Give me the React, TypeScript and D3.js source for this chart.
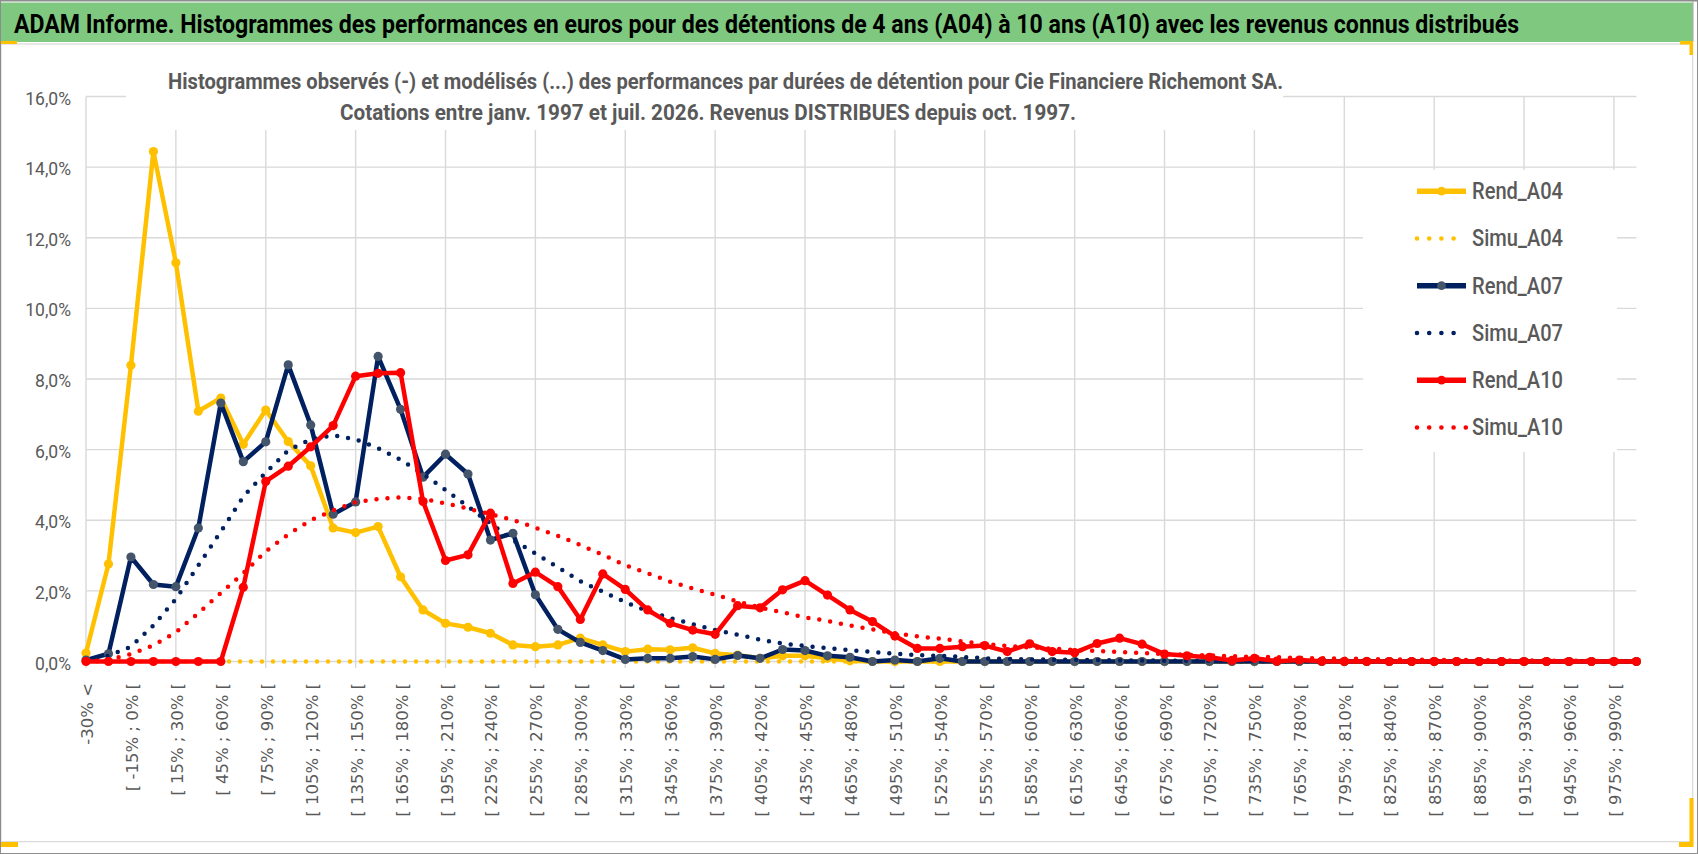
import React, { useEffect } from "react";
import * as d3 from "d3";

// ---------- data ----------
const CATEGORIES: string[] = [
  "-30% <", "[ -30% ; -15% [", "[ -15% ; 0% [", "[ 0% ; 15% [", "[ 15% ; 30% [",
  "[ 30% ; 45% [", "[ 45% ; 60% [", "[ 60% ; 75% [", "[ 75% ; 90% [", "[ 90% ; 105% [",
  "[ 105% ; 120% [", "[ 120% ; 135% [", "[ 135% ; 150% [", "[ 150% ; 165% [", "[ 165% ; 180% [",
  "[ 180% ; 195% [", "[ 195% ; 210% [", "[ 210% ; 225% [", "[ 225% ; 240% [", "[ 240% ; 255% [",
  "[ 255% ; 270% [", "[ 270% ; 285% [", "[ 285% ; 300% [", "[ 300% ; 315% [", "[ 315% ; 330% [",
  "[ 330% ; 345% [", "[ 345% ; 360% [", "[ 360% ; 375% [", "[ 375% ; 390% [", "[ 390% ; 405% [",
  "[ 405% ; 420% [", "[ 420% ; 435% [", "[ 435% ; 450% [", "[ 450% ; 465% [", "[ 465% ; 480% [",
  "[ 480% ; 495% [", "[ 495% ; 510% [", "[ 510% ; 525% [", "[ 525% ; 540% [", "[ 540% ; 555% [",
  "[ 555% ; 570% [", "[ 570% ; 585% [", "[ 585% ; 600% [", "[ 600% ; 615% [", "[ 615% ; 630% [",
  "[ 630% ; 645% [", "[ 645% ; 660% [", "[ 660% ; 675% [", "[ 675% ; 690% [", "[ 690% ; 705% [",
  "[ 705% ; 720% [", "[ 720% ; 735% [", "[ 735% ; 750% [", "[ 750% ; 765% [", "[ 765% ; 780% [",
  "[ 780% ; 795% [", "[ 795% ; 810% [", "[ 810% ; 825% [", "[ 825% ; 840% [", "[ 840% ; 855% [",
  "[ 855% ; 870% [", "[ 870% ; 885% [", "[ 885% ; 900% [", "[ 900% ; 915% [", "[ 915% ; 930% [",
  "[ 930% ; 945% [", "[ 945% ; 960% [", "[ 960% ; 975% [", "[ 975% ; 990% [", "[ 990% ; 1005% [",
];

const REND_A04: number[] = [
  0.24, 2.76, 8.39, 14.44, 11.29, 7.09, 7.46, 6.15, 7.12, 6.23,
  5.54, 3.78, 3.65, 3.82, 2.4, 1.46, 1.08, 0.97, 0.8, 0.47,
  0.42, 0.47, 0.66, 0.47, 0.28, 0.35, 0.33, 0.39, 0.23, 0.18,
  0.09, 0.16, 0.16, 0.09, 0.02, 0, 0, 0, 0, 0,
  0, 0, 0, 0, 0, 0, 0, 0, 0, 0,
  0, 0, 0, 0, 0, 0, 0, 0, 0, 0,
  0, 0, 0, 0, 0, 0, 0, 0, 0, 0,
];

const SIMU_A04: number[] = [
  0, 0, 0, 0, 0, 0, 0, 0, 0, 0,
  0, 0, 0, 0, 0, 0, 0, 0, 0, 0,
  0, 0, 0, 0, 0, 0, 0, 0, 0, 0,
  0, 0, 0, 0, 0, 0, 0, 0, 0, 0,
  0, 0, 0, 0, 0, 0, 0, 0, 0, 0,
  0, 0, 0, 0, 0, 0, 0, 0, 0, 0,
  0, 0, 0, 0, 0, 0, 0, 0, 0, 0,
];

const REND_A07: number[] = [
  0.04, 0.22, 2.96, 2.18, 2.12, 3.78, 7.32, 5.66, 6.22, 8.4,
  6.7, 4.17, 4.52, 8.64, 7.14, 5.22, 5.87, 5.31, 3.44, 3.63,
  1.89, 0.91, 0.54, 0.31, 0.06, 0.09, 0.09, 0.14, 0.06, 0.17,
  0.09, 0.34, 0.31, 0.16, 0.12, 0, 0.04, 0, 0.09, 0,
  0, 0, 0, 0, 0, 0, 0, 0, 0, 0,
  0, 0, 0, 0, 0, 0, 0, 0, 0, 0,
  0, 0, 0, 0, 0, 0, 0, 0, 0, 0,
];

const SIMU_A07: number[] = [
  0.02, 0.16, 0.42, 1.02, 1.77, 2.72, 3.68, 4.67, 5.35, 5.98,
  6.29, 6.41, 6.29, 6.04, 5.71, 5.31, 4.86, 4.39, 3.91, 3.44,
  3.06, 2.67, 2.27, 1.98, 1.68, 1.43, 1.23, 1.06, 0.89, 0.76,
  0.62, 0.51, 0.44, 0.38, 0.32, 0.27, 0.22, 0.18, 0.16, 0.13,
  0.09, 0.07, 0.06, 0.05, 0.05, 0.04, 0.03, 0.03, 0.02, 0.02,
  0.02, 0.01, 0.01, 0.01, 0.01, 0.01, 0, 0, 0, 0,
  0, 0, 0, 0, 0, 0, 0, 0, 0, 0,
];

const REND_A10: number[] = [
  0, 0, 0, 0, 0, 0, 0, 2.1, 5.1, 5.53,
  6.08, 6.68, 8.08, 8.16, 8.18, 4.53, 2.86, 3.02, 4.2, 2.21,
  2.53, 2.12, 1.19, 2.48, 2.04, 1.46, 1.08, 0.89, 0.77, 1.58,
  1.52, 2.03, 2.29, 1.88, 1.46, 1.13, 0.72, 0.37, 0.37, 0.42,
  0.45, 0.28, 0.5, 0.28, 0.25, 0.51, 0.66, 0.49, 0.21, 0.16,
  0.12, 0.03, 0.09, 0.01, 0.04, 0.01, 0, 0, 0, 0,
  0, 0, 0, 0, 0, 0, 0, 0, 0, 0,
];

const SIMU_A10: number[] = [
  0, 0.05, 0.21, 0.46, 0.83, 1.37, 1.94, 2.5, 3.12, 3.6,
  4.0, 4.28, 4.51, 4.6, 4.65, 4.6, 4.48, 4.33, 4.17, 4.01,
  3.79, 3.56, 3.3, 3.02, 2.73, 2.5, 2.26, 2.07, 1.89, 1.7,
  1.53, 1.39, 1.25, 1.15, 1.02, 0.91, 0.8, 0.71, 0.65, 0.57,
  0.49, 0.44, 0.4, 0.36, 0.33, 0.3, 0.27, 0.24, 0.21, 0.19,
  0.17, 0.15, 0.13, 0.12, 0.1, 0.09, 0.08, 0.07, 0.06, 0.05,
  0.05, 0.04, 0.04, 0.03, 0.03, 0.02, 0.02, 0.02, 0.01, 0.01,
];

const SERIES_NAMES = ["Rend_A04", "Simu_A04", "Rend_A07", "Simu_A07", "Rend_A10", "Simu_A10"];

const Y_TICKS = [0, 2, 4, 6, 8, 10, 12, 14, 16];
const Y_TICK_LABELS = ["0,0%", "2,0%", "4,0%", "6,0%", "8,0%", "10,0%", "12,0%", "14,0%", "16,0%"];

const MAIN_TITLE =
  "ADAM Informe. Histogrammes des performances en euros pour des détentions de 4 ans (A04) à 10 ans (A10) avec les revenus connus distribués";
const SUB_TITLE_1 =
  "Histogrammes observés (-) et modélisés (...) des performances par durées de détention pour Cie Financiere Richemont SA.";
const SUB_TITLE_2 =
  "Cotations entre janv. 1997 et juil. 2026. Revenus  DISTRIBUES depuis oct. 1997.";

// ---------- layout / style ----------
const W = 1698;
const H = 854;
const PLOT_LEFT = 86;
const PLOT_RIGHT = 1636.4;
const PLOT_BOTTOM = 661.5;
const PLOT_TOP = 96.5;

const YELLOW = "#FFC000";
const NAVY = "#002060";
const RED = "#FF0000";
const GRID = "#d9d9d9";
const TXT = "#595959";
const NARROW = "'Liberation Sans Narrow', 'Arial Narrow', Roboto, sans-serif";

export default function App() {
  useEffect(() => {
    document.body.style.margin = "0";
  }, []);

  const x = d3.scalePoint<string>().domain(CATEGORIES).range([PLOT_LEFT, PLOT_RIGHT]);
  const y = d3.scaleLinear().domain([0, 16]).range([PLOT_BOTTOM, PLOT_TOP]);

  const lineGen = d3
    .line<number>()
    .x((_, i) => x(CATEGORIES[i]) as number)
    .y((v) => y(v));

  const seriesDefs = [
    { name: SERIES_NAMES[0], values: REND_A04, color: YELLOW, dotted: false, marker: YELLOW },
    { name: SERIES_NAMES[1], values: SIMU_A04, color: YELLOW, dotted: true, marker: null },
    { name: SERIES_NAMES[2], values: REND_A07, color: NAVY, dotted: false, marker: "#44546A" },
    { name: SERIES_NAMES[3], values: SIMU_A07, color: NAVY, dotted: true, marker: null },
    { name: SERIES_NAMES[4], values: REND_A10, color: RED, dotted: false, marker: RED },
    { name: SERIES_NAMES[5], values: SIMU_A10, color: RED, dotted: true, marker: null },
  ];

  const legendX0 = 1417;
  const legendX1 = 1466;
  const legendY0 = 191.2;
  const legendStep = 47.25;

  return (
    <svg
      width={W}
      height={H}
      viewBox={`0 0 ${W} ${H}`}
      style={{ position: "absolute", left: 0, top: 0, display: "block", background: "#fff" }}
    >
      <rect x={0} y={0} width={W} height={H} fill="#ffffff" />
      {/* green title band */}
      <rect x={1} y={2.5} width={1692} height={39.5} fill="#7ec97f" />
      <line x1={0} y1={0.75} x2={W} y2={0.75} stroke="#8c8c8c" strokeWidth={1.5} />
      <line x1={1693} y1={0} x2={1693} y2={42} stroke="#b0b0b0" strokeWidth={1.2} />
      <text
        x={14}
        y={33}
        fontFamily={NARROW}
        fontWeight="bold"
        fontSize={25}
        fill="#000"
        textLength={1505}
        lengthAdjust="spacingAndGlyphs"
      >
        {MAIN_TITLE}
      </text>

      {/* chart area */}
      <rect x={1} y={44} width={1691.7} height={797.7} fill="#fff" stroke={GRID} strokeWidth={1.2} />

      {/* horizontal gridlines */}
      {Y_TICKS.map((t) => (
        <line
          key={"h" + t}
          x1={PLOT_LEFT}
          x2={PLOT_RIGHT}
          y1={y(t)}
          y2={y(t)}
          stroke={GRID}
          strokeWidth={1.4}
        />
      ))}
      {/* vertical gridlines, every 4th category */}
      {CATEGORIES.filter((_, i) => i % 4 === 0).map((c) => (
        <line
          key={"v" + c}
          x1={x(c)}
          x2={x(c)}
          y1={PLOT_TOP}
          y2={PLOT_BOTTOM + 6.5}
          stroke={GRID}
          strokeWidth={1.4}
        />
      ))}

      {/* chart title box (hides gridlines) */}
      <rect x={126} y={50} width={1157} height={80} fill="#fff" />
      <text
        x={168}
        y={89}
        fontFamily={NARROW}
        fontWeight="bold"
        fontSize={21.5}
        fill={TXT}
        textLength={1115}
        lengthAdjust="spacingAndGlyphs"
      >
        {SUB_TITLE_1}
      </text>
      <text
        x={340}
        y={120}
        fontFamily={NARROW}
        fontWeight="bold"
        fontSize={21.5}
        fill={TXT}
        textLength={736}
        lengthAdjust="spacingAndGlyphs"
      >
        {SUB_TITLE_2}
      </text>

      {/* legend box (hides gridlines) */}
      <rect x={1363} y={170} width={254} height={282} fill="#fff" />

      {/* y tick labels */}
      {Y_TICKS.map((t, i) => (
        <text
          key={"yl" + t}
          x={71}
          y={y(t) + 2}
          textAnchor="end"
          dominantBaseline="central"
          fontFamily={NARROW}
          fontSize={17.5}
          fill={TXT}
        >
          {Y_TICK_LABELS[i]}
        </text>
      ))}

      {/* x tick labels, every other category */}
      {CATEGORIES.map((c, i) =>
        i % 2 === 0 ? (
          <text
            key={"xl" + i}
            transform={`translate(${(x(c) as number) + 1.5},683) rotate(-90)`}
            textAnchor="end"
            dominantBaseline="central"
            fontFamily="'DejaVu Sans', Verdana, sans-serif"
            fontSize={16.5}
            fill={TXT}
          >
            {c}
          </text>
        ) : null
      )}

      {/* series */}
      {seriesDefs.map((s) => (
        <g key={s.name}>
          <path
            d={lineGen(s.values) || ""}
            fill="none"
            stroke={s.color}
            strokeWidth={4.5}
            strokeLinejoin="round"
            strokeLinecap="round"
            strokeDasharray={s.dotted ? "0 11" : undefined}
          />
          {s.marker
            ? s.values.map((v, i) => (
                <circle key={i} cx={x(CATEGORIES[i])} cy={y(v)} r={4.6} fill={s.marker as string} />
              ))
            : null}
        </g>
      ))}

      {/* legend */}
      {seriesDefs.map((s, k) => {
        const ly = legendY0 + k * legendStep;
        return (
          <g key={"lg" + s.name}>
            {s.dotted ? (
              <line
                x1={legendX0}
                x2={k === 5 ? legendX1 : legendX1 - 12}
                y1={ly}
                y2={ly}
                stroke={s.color}
                strokeWidth={4.6}
                strokeLinecap="round"
                strokeDasharray="0 12.2"
              />
            ) : (
              <>
                <line x1={legendX0} x2={legendX1} y1={ly} y2={ly} stroke={s.color} strokeWidth={5.5} />
                <circle cx={(legendX0 + legendX1) / 2} cy={ly} r={4.4} fill={s.marker as string} />
              </>
            )}
            <text
              x={1472}
              y={ly + 8}
              fontFamily={NARROW}
              fontWeight={500}
              fontSize={23}
              fill={TXT}
              textLength={91}
              lengthAdjust="spacingAndGlyphs"
            >
              {s.name}
            </text>
          </g>
        );
      })}

      {/* small yellow selection marks */}
      <rect x={0} y={41} width={17} height={3} fill={YELLOW} />
      <rect x={1680} y={41} width={13} height={3.5} fill={YELLOW} />
      <rect x={1689.5} y={41} width={3.5} height={14} fill={YELLOW} />
      <rect x={0} y={842} width={18} height={5} fill={YELLOW} />
      <rect x={1689.5} y={798} width={4} height={49} fill={YELLOW} />
      <rect x={1679} y={842} width={14} height={5} fill={YELLOW} />

      {/* outer border */}
      <rect x={0.5} y={0.5} width={W - 1} height={H - 1} fill="none" stroke="#8c8c8c" strokeWidth={1} />
    </svg>
  );
}
